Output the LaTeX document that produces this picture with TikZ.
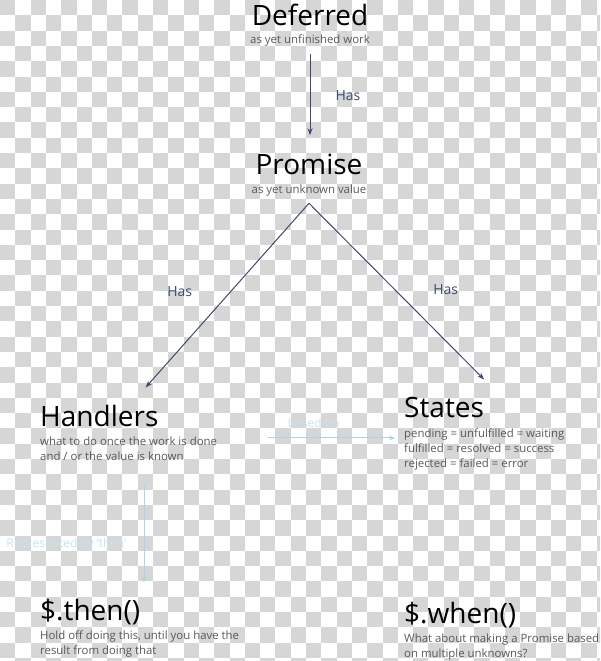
\documentclass[tikz,border=0pt]{standalone}
\usepackage{fontspec}
\setmainfont{Open Sans}
\usetikzlibrary{arrows.meta, positioning}
\definecolor{hasblue}{HTML}{3D4A6C}
\definecolor{linkblue}{HTML}{A9D5EB}
\definecolor{faintblue}{HTML}{C6E3F1}
\definecolor{descgray}{HTML}{595959}
\definecolor{checkgray}{HTML}{D6D6D6}
\tikzstyle{title} = [inner sep=0pt, anchor=base west, font=\fontsize{28}{30}\selectfont, text=black]
\tikzstyle{desc} = [inner sep=0pt, align=left, font=\fontsize{11.4}{15}\selectfont, text=descgray]
\tikzstyle{has} = [inner sep=0pt, font=\fontsize{14}{16}\selectfont, text=hasblue]
\tikzstyle{linklabel} = [inner sep=0pt, font=\fontsize{12}{14}\selectfont, text=faintblue]
\tikzstyle{arrow} = [line width=1pt, hasblue, ->, >={Stealth[length=7pt,width=5pt]}]
\tikzstyle{link} = [line width=1pt, linkblue, ->, >={Stealth[length=6pt,width=5pt]}]

\begin{document}
\begin{tikzpicture}[x=1pt, y=-1pt]

  \useasboundingbox (0,0) rectangle (600,661);

  % checkerboard background
  \begin{scope}
    \clip (0,0) rectangle (600,661);
    \foreach \i in {0,...,39}
      \foreach \j in {0,2,...,42}
        \fill [checkgray] ({\i*15.3},{(\j+mod(\i,2))*15.3}) rectangle +(15.3,15.3);
  \end{scope}

  \node (deferred) [title, anchor=base] at (310,26) {Deferred};
  \node (deferreddesc) [desc, below=8pt of deferred] {as yet unfinished work};

  \node (promise) [title, anchor=base] at (309,174) {Promise};
  \node (promisedesc) [desc, below=10pt of promise] {as yet unknown value};
  \coordinate [below=7pt of promisedesc] (apex);

  \node (handlers) [title] at (40,426) {Handlers};
  \node (handlersdesc) [desc, below right=10.5pt and 0pt of handlers.south west] {what to do once the work is done\\and / or the value is known};

  \node (states) [title] at (404,417) {States};
  \node (statesdesc) [desc, below right=11pt and 0pt of states.south west] {pending = unfulfilled = waiting\\fulfilled = resolved = success\\rejected = failed = error};

  \node (thenop) [title] at (40,620) {\$.then()};
  \node (thendesc) [desc, below right=6pt and 0pt of thenop.south west] {Hold off doing this, until you have the\\result from doing that};

  \node (whenop) [title] at (404,623) {\$.when()};
  \node (whendesc) [desc, below right=6pt and 0pt of whenop.south west] {What about making a Promise based\\on multiple unknowns?};

  \draw [arrow, shorten <=8pt, shorten >=18pt] (deferreddesc.south) -- node[has, anchor=west, xshift=25pt, yshift=4pt] {Has} (deferreddesc.south |- promise.north);

  \draw [arrow] (apex) -- node[has, pos=0.48, anchor=east, xshift=-38pt] {Has} ([xshift=-13pt, yshift=17pt]handlers.north east);
  \draw [arrow] (apex) -- node[has, pos=0.49, anchor=west, xshift=38pt] {Has} ([yshift=17pt]states.north east);

  \draw [link] ([xshift=51pt, yshift=-1pt]handlersdesc.north east) coordinate (basedstart) -- node[linklabel, above=10pt, xshift=-18pt] {based on} ([xshift=-9pt]basedstart -| statesdesc.west);

  \draw [link, shorten >=16pt] ([xshift=104pt, yshift=-25pt]handlersdesc.south west) coordinate (thenstart) -- node[linklabel, anchor=east, xshift=-17pt, yshift=-2pt] {Represented by `then'} (thenstart |- thenop.north);

\end{tikzpicture}
\end{document}
